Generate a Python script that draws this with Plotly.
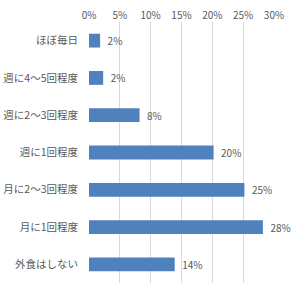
import plotly.graph_objects as go

categories = ["ほぼ毎日", "週に4〜5回程度", "週に2〜3回程度", "週に1回程度", "月に2〜3回程度", "月に1回程度", "外食はしない"]
values = [1.8, 2.3, 8.2, 20.2, 25.2, 28.2, 13.9]
labels = ["2%", "2%", "8%", "20%", "25%", "28%", "14%"]
tick_vals = [0, 5, 10, 15, 20, 25, 30]
tick_text = ["0%", "5%", "10%", "15%", "20%", "25%", "30%"]

font_family = "Noto Sans CJK JP, sans-serif"
gray = "#595959"

fig = go.Figure(go.Bar(
    x=values, y=categories, orientation="h",
    marker=dict(color="#4F81BD", line=dict(width=0)),
    text=["  " + t for t in labels], textposition="outside", cliponaxis=False,
    constraintext="none",
    textfont=dict(family=font_family, size=10, color=gray),
))

fig.update_layout(
    width=300, height=295,
    margin=dict(l=89, r=26, t=22, b=12, autoexpand=False),
    paper_bgcolor="white", plot_bgcolor="white",
    bargap=0.63,
    showlegend=False,
    font=dict(family=font_family, size=10, color=gray),
    xaxis=dict(side="top", range=[0, 30], tickvals=tick_vals, ticktext=tick_text,
               showgrid=True, gridcolor="#D9D9D9", gridwidth=1, zeroline=False,
               showline=False, ticks="", automargin=False, tickfont=dict(size=10, color=gray)),
    yaxis=dict(categoryorder="array", categoryarray=categories, autorange="reversed",
               showgrid=False, showline=False, ticks="", ticklabelstandoff=10,
               automargin=False, tickfont=dict(size=10.5, color=gray)),
)

fig.write_html("out.html")
